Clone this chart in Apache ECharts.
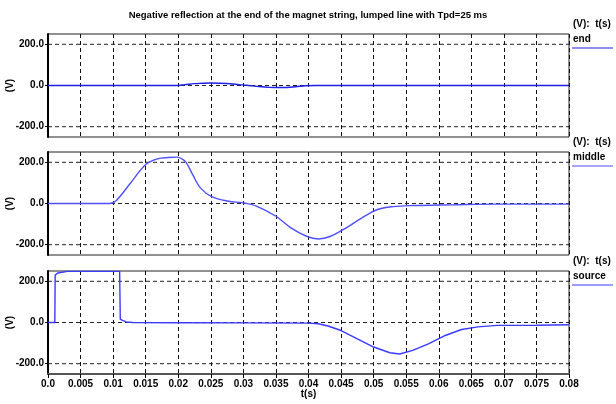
<!DOCTYPE html>
<html>
<head>
<meta charset="utf-8">
<script src="https://cdn.jsdelivr.net/npm/echarts@6/dist/echarts.min.js"></script>
<style>
  html, body { margin: 0; padding: 0; background: #fff; }
  #chart { width: 616px; height: 404px; }
</style>
</head>
<body>
<div id="chart"></div>
<script>
    // values
    const titleText = 'Negative reflection at the end of the magnet string, lumped line with Tpd=25 ms';
    const panelNames = ['end', 'middle', 'source'];
    const yTicks = [-200, 0, 200];

    const endT = [0, 0.0195, 0.021, 0.0225, 0.025, 0.0275, 0.029, 0.0305, 0.032, 0.034, 0.036, 0.038, 0.0395, 0.041, 0.08];
    const endV = [0, 0, 4, 9, 12, 10, 5, 1, -4, -9, -10, -6, -1, 0, 0];

    const midT = [0, 0.0095, 0.0105, 0.0125, 0.015, 0.0168, 0.0185, 0.0198, 0.0205, 0.0212, 0.0222, 0.0234, 0.0252,
        0.0277, 0.03, 0.032, 0.035, 0.0373, 0.0397, 0.0415, 0.0434, 0.0458, 0.0482, 0.0506, 0.053, 0.056, 0.062, 0.069, 0.08];
    const midV = [0, 0, 15, 92, 189, 217, 223, 225, 218, 200, 141, 76, 32,
        11, 3, -13, -62, -118, -159, -172, -159, -118, -70, -29, -15, -10, -6.5, -3, -3];

    const srcT = [0, 0.00105, 0.0011, 0.0015, 0.003, 0.011, 0.0111, 0.0114, 0.012, 0.013, 0.02, 0.03, 0.04, 0.0415,
        0.043, 0.045, 0.0475, 0.05, 0.0525, 0.054, 0.056, 0.0585, 0.061, 0.0635, 0.066, 0.069, 0.075, 0.08];
    const srcV = [0, 0, 230, 240, 248, 248, 15, 10, 3, 0, -1, -2, -3, -6,
        -17, -39, -79, -119, -147, -153, -135, -103, -63, -34, -21, -14, -13, -11];

    const FONT = '"Liberation Sans Narrow", "Liberation Sans", Arial, sans-serif';
    const gridTops = [34, 152, 271];
    const gridH = 103;
    const lineColors = ['#1e1ee8', '#4f4fff', '#3a3aff'];
    const smoothing = [0.35, 0.35, false];

    function pairs(ts, vs) {
        return ts.map((t, i) => [t, vs[i]]);
    }

    function fmtT(v) {
        if (v === 0) return '0.0';
        return String(+v.toFixed(3));
    }

    const seriesData = [pairs(endT, endV), pairs(midT, midV), pairs(srcT, srcV)];

    const grids = gridTops.map((top) => ({
        left: 48, right: 47, top: top, height: gridH, outerBoundsMode: 'none', containLabel: false,
        show: true, borderColor: '#222', borderWidth: 1, backgroundColor: '#fff',
    }));

    const xAxes = gridTops.map((_, i) => {
        const last = i === gridTops.length - 1;
        return {
            type: 'value', gridIndex: i, min: 0, max: 0.08, interval: 0.005,
            axisLine: { show: last, onZero: false, lineStyle: { color: '#555', width: 2 } },
            axisTick: { show: last, length: 4, lineStyle: { color: '#000' } },
            axisLabel: {
                show: last, formatter: fmtT, color: '#000', fontFamily: FONT,
                fontWeight: 'bold', fontSize: 10, margin: 5,
            },
            name: last ? 't(s)' : '', nameLocation: 'middle', nameGap: 15, nameMoveOverlap: false,
            nameTextStyle: { color: '#000', fontFamily: FONT, fontWeight: 'bold', fontSize: 10 },
            splitLine: { show: true, lineStyle: { color: '#111', type: [4, 3], width: 1 } },
        };
    });

    const yAxes = gridTops.map((_, i) => ({
        type: 'value', gridIndex: i, min: -250, max: 250,
        axisLine: { show: true, onZero: false, lineStyle: { color: '#000', width: 2 } },
        axisTick: { show: true, customValues: yTicks, length: 3, lineStyle: { color: '#000' } },
        axisLabel: {
            customValues: yTicks, formatter: (v) => v.toFixed(1), color: '#000',
            fontFamily: FONT, fontWeight: 'bold', fontSize: 10, margin: 4,
        },
        splitLine: { show: false },
        name: '(V)', nameLocation: 'middle', nameGap: 33, nameRotate: 90, nameMoveOverlap: false,
        nameTextStyle: { color: '#000', fontFamily: FONT, fontWeight: 'bold', fontSize: 10 },
    }));

    const series = [];
    gridTops.forEach((_, i) => {
        // horizontal dashed grid lines at the tick values, under the curve
        yTicks.forEach((y) => {
            series.push({
                type: 'line', xAxisIndex: i, yAxisIndex: i, z: 1, silent: true,
                data: [[0, y], [0.08, y]], showSymbol: false,
                lineStyle: { color: '#222', type: [4, 3], width: 1 },
            });
        });
        series.push({
            type: 'line', name: panelNames[i], xAxisIndex: i, yAxisIndex: i, z: 3, zlevel: 1,
            data: seriesData[i], showSymbol: false, smooth: smoothing[i],
            lineStyle: { color: lineColors[i], width: 1.4 }, itemStyle: { color: lineColors[i] },
        });
    });

    const graphics = [];
    gridTops.forEach((top, i) => {
        graphics.push({
            type: 'text', left: 573, top: top - 15,
            style: { text: '(V):  t(s)', fill: '#000', font: 'bold 10px ' + FONT },
        });
        graphics.push({
            type: 'text', left: 573, top: top,
            style: { text: panelNames[i], fill: '#000', font: 'bold 10px ' + FONT },
        });
        graphics.push({
            type: 'line', shape: { x1: 572, y1: top + 14, x2: 613, y2: top + 14 },
            style: { stroke: lineColors[i], lineWidth: 1.2 },
        });
    });

    const chart = echarts.init(document.getElementById('chart'), null, { renderer: 'canvas' });
    chart.setOption({
        animation: false,
        backgroundColor: '#fff',
        title: {
            text: titleText, left: 'center', top: 5,
            textStyle: { color: '#000', fontFamily: FONT, fontWeight: 'bold', fontSize: 9.5 },
        },
        grid: grids,
        xAxis: xAxes,
        yAxis: yAxes,
        series: series,
        graphic: graphics,
    });
</script>
</body>
</html>
